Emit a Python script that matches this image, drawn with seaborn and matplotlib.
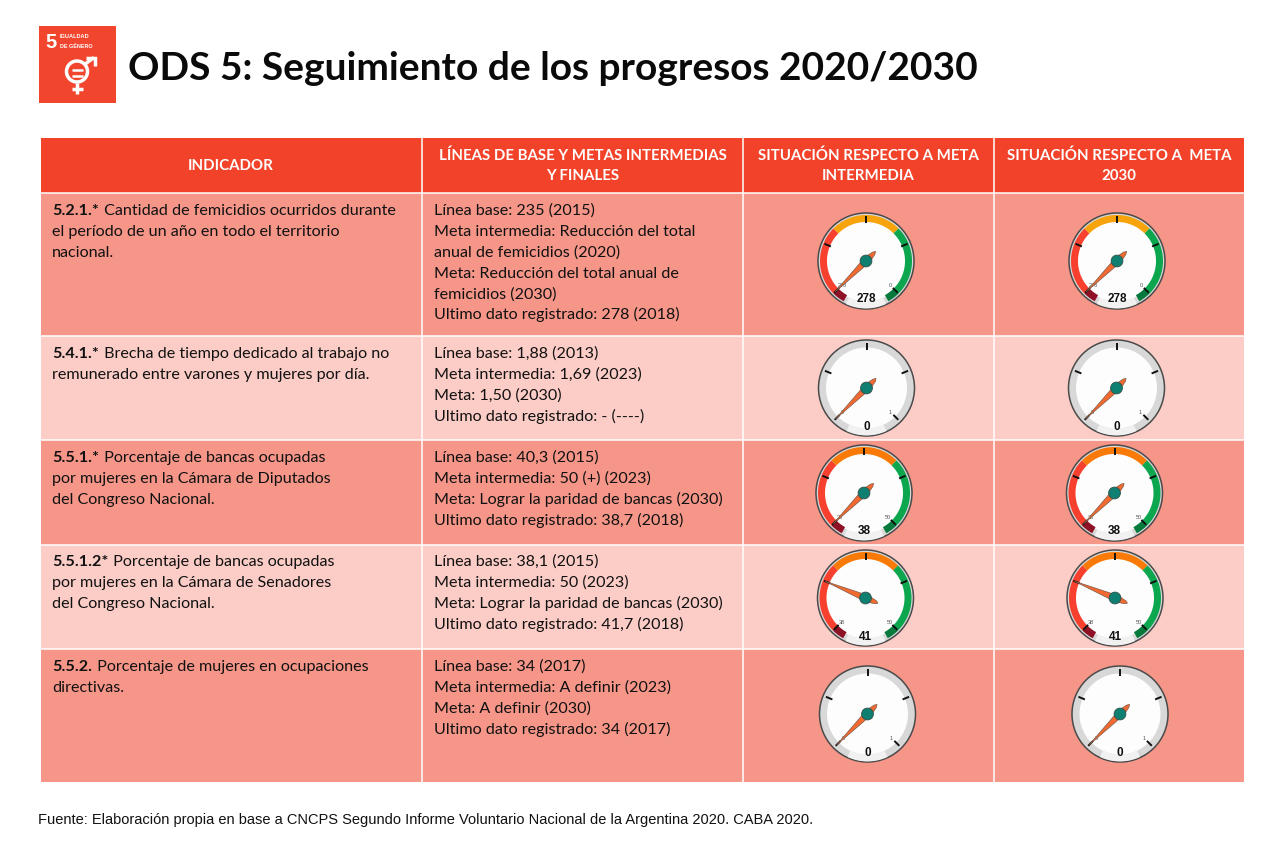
import numpy as np
import seaborn as sns
import matplotlib.pyplot as plt
from matplotlib.colors import ListedColormap
from matplotlib.patches import Polygon, Circle, Rectangle

title = "ODS 5: Seguimiento de los progresos 2020/2030"
source = "Fuente: Elaboración propia en base a CNCPS Segundo Informe Voluntario Nacional de la Argentina 2020. CABA 2020."

headers = [["INDICADOR"],
           ["LÍNEAS DE BASE Y METAS INTERMEDIAS", "Y FINALES"],
           ["SITUACIÓN RESPECTO A META", "INTERMEDIA"],
           ["SITUACIÓN RESPECTO A  META", "2030"]]

indicator_codes = ["5.2.1.*", "5.4.1.*", "5.5.1.*", "5.5.1.2*", "5.5.2."]
indicator_text = [
    [" Cantidad de femicidios ocurridos durante", "el período de un año en todo el territorio", "nacional."],
    [" Brecha de tiempo dedicado al trabajo no", "remunerado entre varones y mujeres por día."],
    [" Porcentaje de bancas ocupadas", "por mujeres en la Cámara de Diputados", "del Congreso Nacional."],
    [" Porcentaje de bancas ocupadas", "por mujeres en la Cámara de Senadores", "del Congreso Nacional."],
    [" Porcentaje de mujeres en ocupaciones", "directivas."],
]
baselines = [
    ["Línea base: 235 (2015)", "Meta intermedia: Reducción del total", "anual de femicidios (2020)",
     "Meta: Reducción del total anual de", "femicidios (2030)", "Ultimo dato registrado: 278 (2018)"],
    ["Línea base: 1,88 (2013)", "Meta intermedia: 1,69 (2023)", "Meta: 1,50 (2030)", "Ultimo dato registrado: - (----)"],
    ["Línea base: 40,3 (2015)", "Meta intermedia: 50 (+) (2023)", "Meta: Lograr la paridad de bancas (2030)",
     "Ultimo dato registrado: 38,7 (2018)"],
    ["Línea base: 38,1 (2015)", "Meta intermedia: 50 (2023)", "Meta: Lograr la paridad de bancas (2030)",
     "Ultimo dato registrado: 41,7 (2018)"],
    ["Línea base: 34 (2017)", "Meta intermedia: A definir (2023)", "Meta: A definir (2030)",
     "Ultimo dato registrado: 34 (2017)"],
]

# gauge readings per row
gauge_value = [278, 0, 38, 41, 0]
gauge_low = [278, 0, 38, 38, 0]
gauge_high = [0, 1, 50, 50, 1]
gauge_colored = [True, False, True, True, False]
gauge_mid_color = ["#f7a30c", None, "#f97a06", "#f97a06", None]

# table geometry in pixels
col_edges = [41, 422, 743, 994, 1244]
row_edges = [138, 193, 336, 440, 545, 649, 782]
row_shade = [0, 1, 2, 1, 2, 1]
row_text_y = [215, 358, 462, 566, 671]
gauge_x = [[866, 1117], [866.5, 1116.5], [864, 1114.5], [865.5, 1115], [867.5, 1120]]
gauge_y = [261, 388, 493, 598, 714]

red = "#f2432a"
shades = [red, "#f69689", "#fccdc7"]

sns.set_theme(style="white")
plt.rcParams["font.family"] = ["Lato", "DejaVu Sans"]

W, H = 1280, 864
fig = plt.figure(figsize=(W / 100, H / 100), dpi=100, facecolor="white")

# table background: one heatmap value per pixel row
ax_t = fig.add_axes([col_edges[0] / W, 1 - row_edges[-1] / H,
                     (col_edges[-1] - col_edges[0]) / W, (row_edges[-1] - row_edges[0]) / H])
cells = np.repeat(row_shade, np.diff(row_edges)).reshape(-1, 1)
sns.heatmap(cells, cmap=ListedColormap(shades), cbar=False, xticklabels=False, yticklabels=False,
            vmin=-0.5, vmax=2.5, ax=ax_t)

ax = fig.add_axes([0, 0, 1, 1])
ax.set_xlim(0, W)
ax.set_ylim(H, 0)
ax.axis("off")
ax.patch.set_alpha(0)

for y in row_edges[1:-1]:
    ax.plot([col_edges[0], col_edges[-1]], [y, y], color="white", lw=1.1)
for x in col_edges[1:-1]:
    ax.plot([x, x], [row_edges[0], row_edges[-1]], color="white", lw=1.1)


def ring(cx, cy, r1, r2, a1, a2, color):
    ang = np.radians(np.linspace(a1, a2, 60))
    xs = np.r_[cx + r2 * np.cos(ang), cx + r1 * np.cos(ang[::-1])]
    ys = np.r_[cy - r2 * np.sin(ang), cy - r1 * np.sin(ang[::-1])]
    ax.add_patch(Polygon(np.c_[xs, ys], closed=True, fc=color, ec="none", zorder=3))


def gauge(cx, cy, value, lo, hi, colored, mid):
    ax.add_patch(Circle((cx, cy), 48, fc="#d8d8d8", ec="#4a4a4a", lw=1.1, zorder=2))
    ring(cx, cy, 40.5, 47.4, 245, 295, "#f1f1f1")
    ax.add_patch(Circle((cx, cy), 40.5, fc="#fdfdfd", ec="none", zorder=3))
    if colored:
        ring(cx, cy, 39, 46, 225, 241, "#8e1126")
        ring(cx, cy, 39, 46, 135, 225, "#f8402f")
        ring(cx, cy, 39, 46, 45, 135, mid)
        ring(cx, cy, 39, 46, -45, 45, "#0ca64f")
        ring(cx, cy, 39, 46, -61, -45, "#067a3c")
    for a in [225, 157.5, 90, 22.5, -45]:
        t = np.radians(a)
        ax.plot([cx + 38 * np.cos(t), cx + 45 * np.cos(t)], [cy - 38 * np.sin(t), cy - 45 * np.sin(t)],
                color="#111111", lw=1.4, solid_capstyle="butt", zorder=4)
    for a, lab in [(225, lo), (-45, hi)]:
        t = np.radians(a)
        ax.text(cx + 34 * np.cos(t), cy - 34 * np.sin(t), str(lab), fontsize=4, color="#555555",
                ha="center", va="center", zorder=4, family="Liberation Sans")
    ax.text(cx, cy + 38.5, str(value), fontsize=8.5, fontweight="bold", color="#111111",
            ha="center", va="center", zorder=4, family="Liberation Sans")
    # needle position comes from the value on a 270 degree scale
    t = np.radians(225 - 270 * (value - lo) / (hi - lo))
    d = np.array([np.cos(t), -np.sin(t)])
    n = np.array([d[1], -d[0]])
    c = np.array([cx, cy])
    pts = [c + d * 44, c + n * 2.8 + d * 6, c + n * 2.8 - d * 5, c + n * 1.6 - d * 11, c - d * 13.5,
           c - n * 1.6 - d * 11, c - n * 2.8 - d * 5, c - n * 2.8 + d * 6]
    ax.add_patch(Polygon(pts, closed=True, fc="#f4692f", ec="#7a5a48", lw=0.5, zorder=5))
    ax.add_patch(Circle((cx, cy), 5.9, fc="#0e7f70", ec="#33504a", lw=0.6, zorder=6))


for i in range(5):
    for cx in gauge_x[i]:
        gauge(cx, gauge_y[i], gauge_value[i], gauge_low[i], gauge_high[i], gauge_colored[i], gauge_mid_color[i])

# headers
FS = 11.6
HFS = 10.85
header_cx = [231, 582.5, 868.5, 1119]
for lines, cx in zip(headers, header_cx):
    ys = [170] if len(lines) == 1 else [160, 180.5]
    for s, y in zip(lines, ys):
        ax.text(cx, y, s, color="white", fontsize=HFS, fontweight="bold", ha="center", va="baseline")

# body text
renderer = fig.canvas.get_renderer()
LINE = 20.9
for i in range(5):
    y0 = row_text_y[i]
    code = ax.text(52, y0, indicator_codes[i], fontsize=FS, fontweight="bold", color="#111111", va="baseline")
    w = code.get_window_extent(renderer).width
    ax.text(52 + w + 1, y0, indicator_text[i][0], fontsize=FS, color="#111111", va="baseline")
    for j, s in enumerate(indicator_text[i][1:], 1):
        ax.text(52, y0 + j * LINE, s, fontsize=FS, color="#111111", va="baseline")
    for j, s in enumerate(baselines[i]):
        ax.text(434, y0 + j * LINE, s, fontsize=FS, color="#111111", va="baseline")

ax.text(128, 80, title, fontsize=28, fontweight="bold", color="#0a0a0a", va="baseline")
ax.text(38, 824, source, fontsize=10.56, color="#111111", va="baseline", family="Liberation Sans")

# SDG 5 icon
ax.add_patch(Rectangle((39, 26), 77, 77, fc="#f2452d", ec="none"))
ax.text(45.5, 48.5, "5", color="white", fontsize=14.5, fontweight="bold", va="baseline", family="Liberation Sans")
ax.text(60, 38.5, "IGUALDAD", color="white", fontsize=4.1, fontweight="bold", va="baseline", family="Liberation Sans")
ax.text(60, 48.5, "DE GÉNERO", color="white", fontsize=3.9, fontweight="bold", va="baseline", family="Liberation Sans")
ax.add_patch(Circle((77, 71.5), 10.5, fc="none", ec="white", lw=2.5))
ax.plot([72, 83], [70, 70], color="white", lw=1.8, solid_capstyle="butt")
ax.plot([72, 83], [75.5, 75.5], color="white", lw=1.8, solid_capstyle="butt")
ax.plot([84.5, 94], [64.5, 57.5], color="white", lw=2.5, solid_capstyle="butt")
ax.plot([85.5, 95, 95], [57.5, 57.5, 66], color="white", lw=2.5, solid_joinstyle="miter", solid_capstyle="butt")
ax.plot([77, 77], [83, 94], color="white", lw=2.5, solid_capstyle="butt")
ax.plot([71.5, 83], [89, 89], color="white", lw=2.5, solid_capstyle="butt")

fig.savefig("out.png", dpi=100)
